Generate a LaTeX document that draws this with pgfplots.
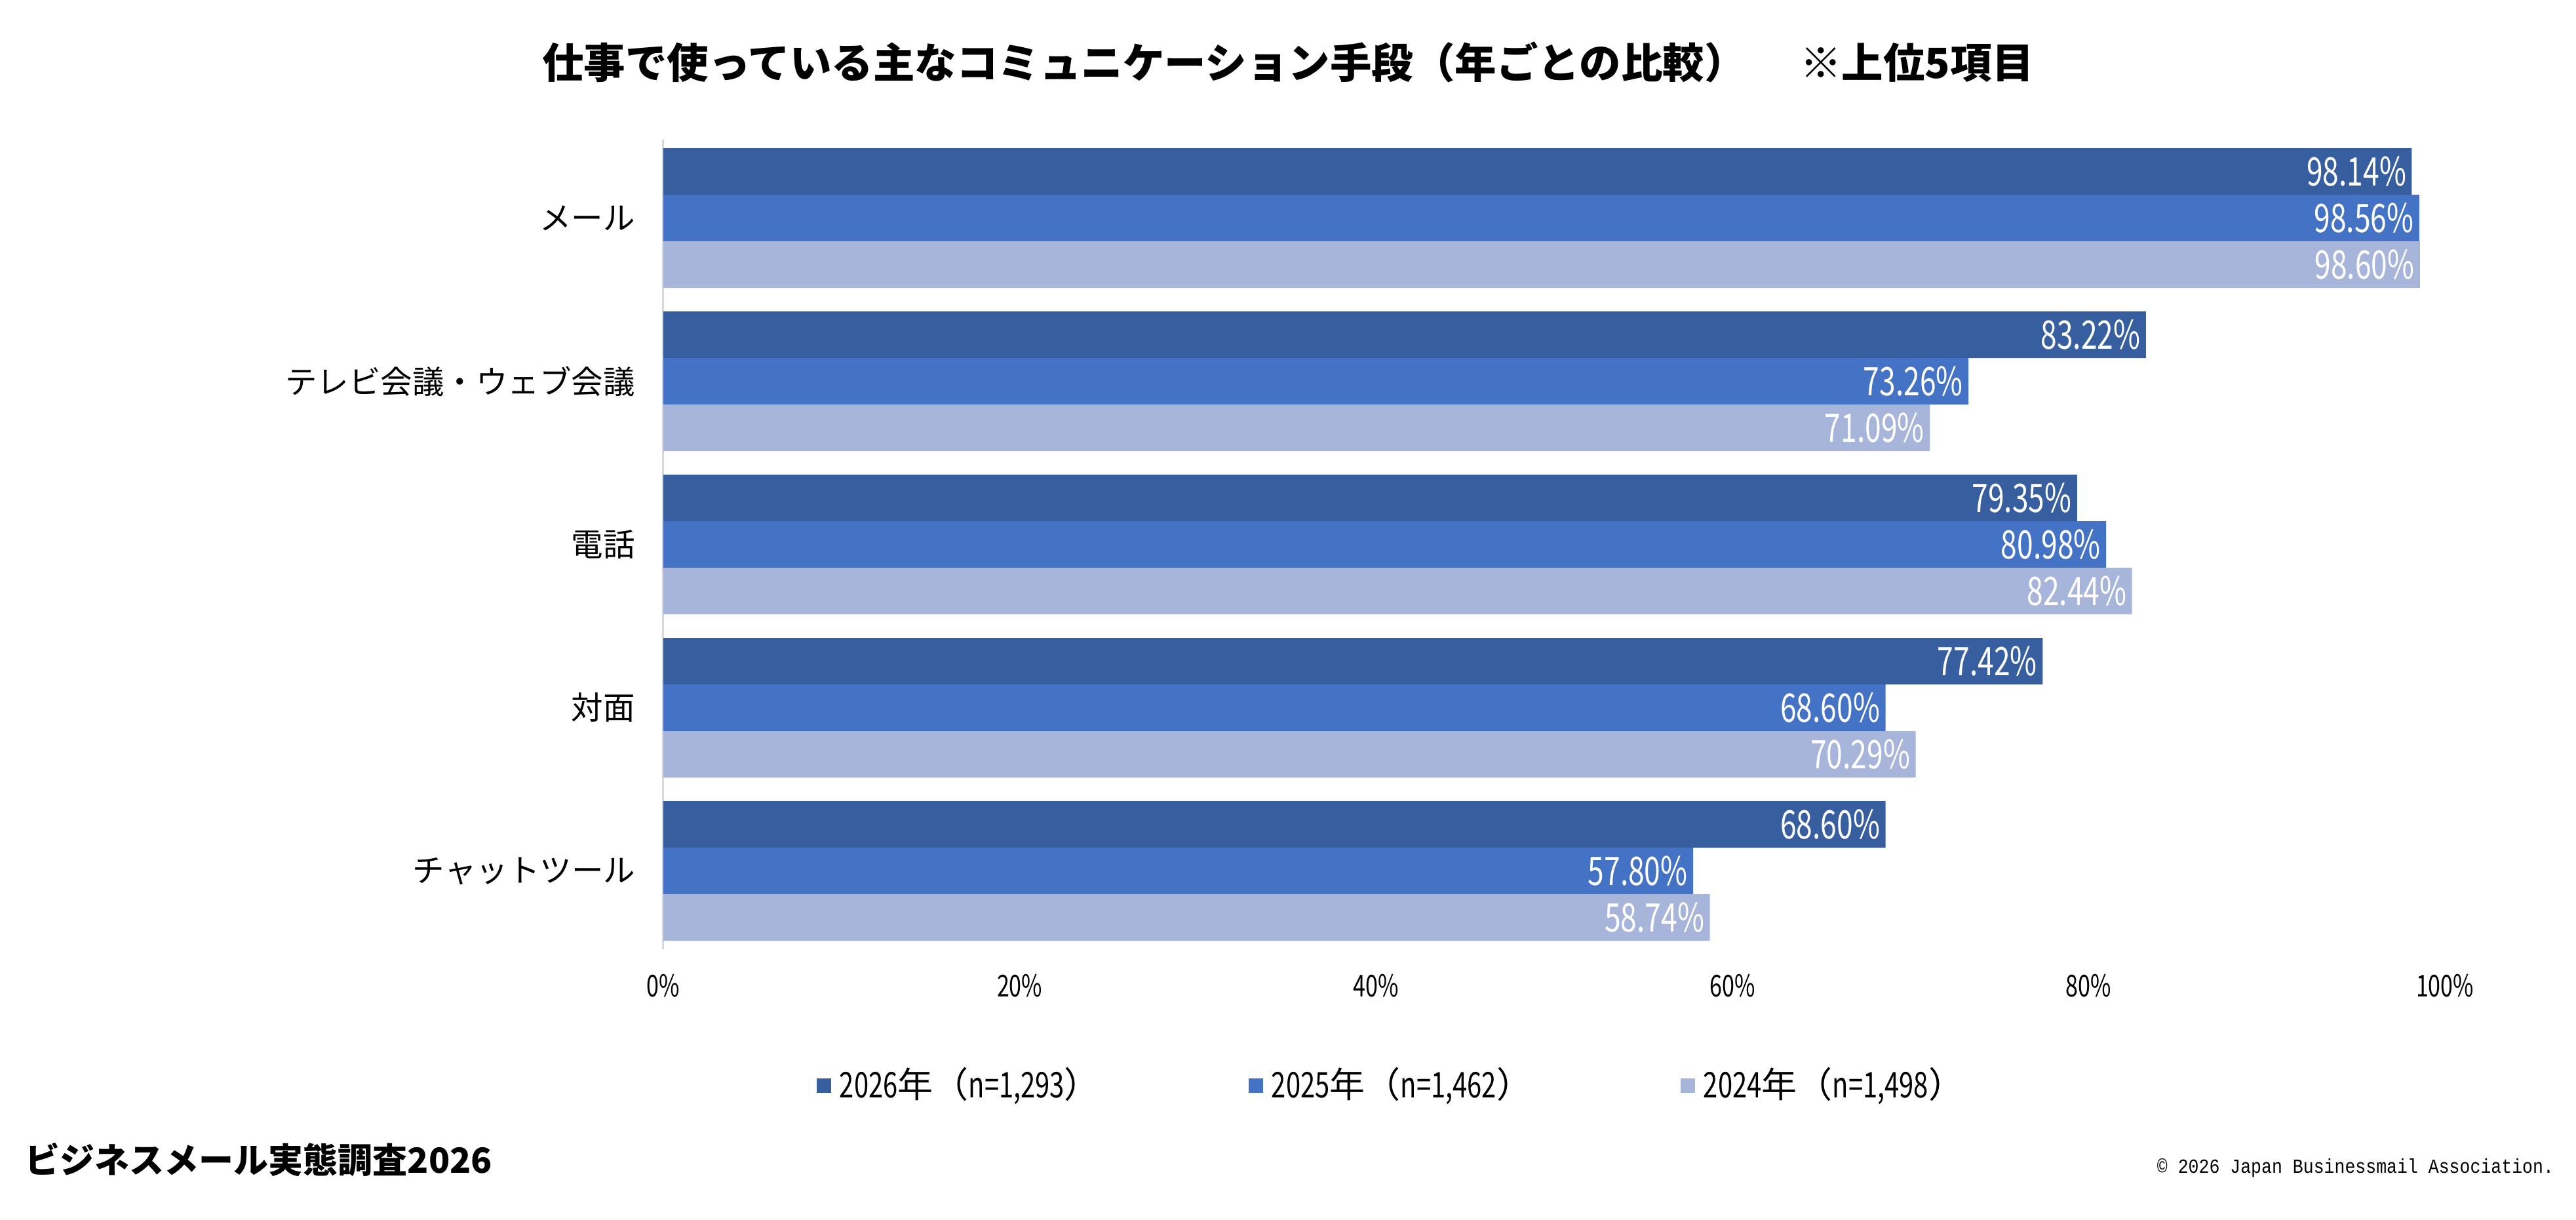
\documentclass[border=0pt]{standalone}
\usepackage{fontspec}
\usepackage{pgfplots}
\pgfplotsset{compat=1.18}
\setmainfont{Noto Sans CJK JP}
\newfontfamily\numfont[FakeStretch=0.74]{Noto Sans CJK JP}
\newfontfamily\monofont[FakeStretch=0.87]{Liberation Mono}
\definecolor{c26}{RGB}{55,94,159}
\definecolor{c25}{RGB}{68,114,196}
\definecolor{c24}{RGB}{168,181,218}
\begin{document}
\begin{tikzpicture}
\useasboundingbox (-202.4pt,-82.4pt) rectangle (583.6pt,289.6pt);
\begin{axis}[
  at={(0pt,0pt)}, anchor=south west,
  scale only axis, width=543.6pt, height=247pt,
  xbar=0pt, bar width=14.2pt,
  xmin=0, xmax=100, ymin=-0.48, ymax=4.48, y dir=reverse,
  ytick={0,1,2,3,4},
  yticklabels={メール,テレビ会議・ウェブ会議,電話,対面,チャットツール},
  xtick={0,20,40,60,80,100},
  xticklabels={0\%,20\%,40\%,60\%,80\%,100\%},
  major tick length=0pt,
  axis lines*=left,
  x axis line style={draw=none},
  y axis line style={draw=black!15,line width=0.6pt},
  yticklabel style={font=\fontsize{9.7}{11}\selectfont, inner sep=0pt, xshift=-8.4pt},
  xticklabel style={font=\fontsize{9.2}{10}\selectfont\numfont, inner sep=0pt, anchor=center, yshift=-11.2pt},
  /pgf/number format/assume math mode=true,
  point meta=x,
  nodes near coords={\pgfmathprintnumber[fixed,fixed zerofill,precision=2]{\pgfplotspointmeta}\%},
  every node near coord/.append style={anchor=east, text=white, font=\fontsize{12}{13}\selectfont\numfont, xshift=-1.5pt, inner sep=0pt},
  legend columns=3,
  legend style={draw=none, fill=none, inner sep=0pt, at={(0.0857,-0.168)}, anchor=west,
    font=\fontsize{10.8}{12}\selectfont,
    nodes={inner sep=0pt, anchor=west},
    /tikz/every odd column/.append style={column sep=2.6pt}},
  legend image code/.code={\fill[#1,draw=none] (0pt,-2.2pt) rectangle (4.4pt,2.2pt);},
]
\addplot[fill=c26, draw=none, bar shift=14.2pt] coordinates {(98.14,0) (83.22,1) (79.35,2) (77.42,3) (68.60,4)};
\addplot[fill=c25, draw=none, bar shift=0pt] coordinates {(98.56,0) (73.26,1) (80.98,2) (68.60,3) (57.80,4)};
\addplot[fill=c24, draw=none, bar shift=-14.2pt] coordinates {(98.60,0) (71.09,1) (82.44,2) (70.29,3) (58.74,4)};
\legend{\makebox[124.8pt][l]{{\numfont 2026}年（{\numfont n=1,293}）},
        \makebox[124.8pt][l]{{\numfont 2025}年（{\numfont n=1,462}）},
        \makebox[80pt][l]{{\numfont 2024}年（{\numfont n=1,498}）}}
\end{axis}
\node[font=\fontsize{12.7}{14}\selectfont\bfseries, inner sep=0pt] at (190.6pt,270.6pt)
  {仕事で使っている主なコミュニケーション手段（年ごとの比較）\hspace{1.3em}※上位5項目};
\node[font=\fontsize{10.6}{12}\selectfont\bfseries, inner sep=0pt, anchor=west] at (-194.8pt,-64.2pt)
  {ビジネスメール実態調査2026};
\node[font=\fontsize{6.1}{7}\selectfont\monofont, inner sep=0pt, anchor=east] at (577pt,-66.8pt)
  {© 2026 Japan Businessmail Association.};
\end{tikzpicture}
\end{document}
